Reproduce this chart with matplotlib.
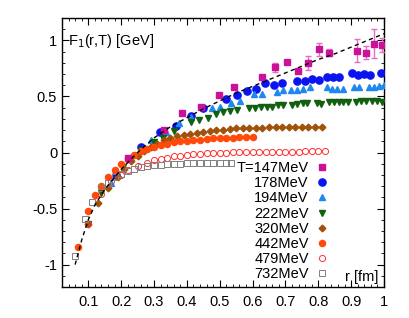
import matplotlib
matplotlib.use("Agg")
import matplotlib.pyplot as plt
from matplotlib.lines import Line2D
from matplotlib.ticker import FixedLocator, MultipleLocator

plt.rcParams['font.family'] = ['Liberation Sans', 'DejaVu Sans']
plt.rcParams['axes.unicode_minus'] = False

# ---------------- data ----------------
r147 = [0.222, 0.33, 0.384, 0.444, 0.497, 0.543, 0.628, 0.668, 0.705, 0.738, 0.769, 0.802, 0.833, 0.918, 0.946, 0.970, 0.995]
F147 = [-0.05, 0.20, 0.35, 0.41, 0.51, 0.58, 0.67, 0.76, 0.81, 0.73, 0.80, 0.92, 0.89, 0.91, 0.89, 0.97, 0.96]
e147 = [0.01, 0.01, 0.01, 0.01, 0.01, 0.01, 0.01, 0.04, 0.01, 0.01, 0.06, 0.06, 0.03, 0.10, 0.06, 0.13, 0.06]

r178 = [0.185, 0.259, 0.317, 0.366, 0.412, 0.448, 0.519, 0.552, 0.583, 0.61, 0.638, 0.665, 0.689, 0.735, 0.76, 0.781, 0.803, 0.826, 0.845, 0.864, 0.903, 0.921, 0.94, 0.958, 0.991]
F178 = [-0.20, 0.045, 0.18, 0.24, 0.33, 0.40, 0.48, 0.51, 0.55, 0.57, 0.62, 0.60, 0.62, 0.64, 0.64, 0.66, 0.65, 0.67, 0.67, 0.67, 0.71, 0.69, 0.70, 0.69, 0.71]

r194 = [0.168, 0.23, 0.29, 0.336, 0.375, 0.412, 0.476, 0.502, 0.533, 0.563, 0.604, 0.63, 0.673, 0.693, 0.716, 0.736, 0.754, 0.775, 0.826, 0.843, 0.858, 0.876, 0.909, 0.924, 0.955, 0.97, 0.985, 1.0]
F194 = [-0.27, -0.05, 0.11, 0.18, 0.26, 0.32, 0.40, 0.41, 0.44, 0.46, 0.52, 0.52, 0.54, 0.56, 0.56, 0.56, 0.57, 0.58, 0.58, 0.57, 0.57, 0.57, 0.58, 0.58, 0.58, 0.58, 0.59, 0.60]

r222 = [0.10, 0.14, 0.207, 0.26, 0.30, 0.327, 0.36, 0.414, 0.436, 0.464, 0.488, 0.51, 0.53, 0.552, 0.589, 0.607, 0.625, 0.643, 0.659, 0.677, 0.692, 0.72, 0.735, 0.753, 0.766, 0.796, 0.808, 0.832, 0.848, 0.863, 0.876, 0.891, 0.915, 0.93, 0.946, 0.964, 0.979, 0.995]
F222 = [-0.64, -0.36, -0.13, 0.02, 0.09, 0.13, 0.19, 0.27, 0.29, 0.31, 0.34, 0.36, 0.37, 0.38, 0.40, 0.40, 0.41, 0.41, 0.41, 0.42, 0.42, 0.42, 0.43, 0.44, 0.44, 0.44, 0.43, 0.45, 0.45, 0.45, 0.45, 0.45, 0.45, 0.46, 0.46, 0.46, 0.46, 0.45]

r320 = [0.10, 0.13, 0.16, 0.19, 0.21, 0.23, 0.25, 0.27, 0.29, 0.31, 0.33, 0.35, 0.37, 0.39, 0.41, 0.43, 0.45, 0.47, 0.49, 0.51, 0.53, 0.55, 0.57, 0.59, 0.61, 0.63, 0.65, 0.67, 0.69, 0.71, 0.73, 0.75, 0.77, 0.79, 0.81]
F320 = [-0.64, -0.45, -0.32, -0.22, -0.15, -0.08, -0.03, 0.01, 0.05, 0.08, 0.11, 0.13, 0.145, 0.155, 0.165, 0.175, 0.18, 0.19, 0.20, 0.205, 0.21, 0.215, 0.215, 0.22, 0.22, 0.22, 0.225, 0.225, 0.225, 0.23, 0.23, 0.23, 0.23, 0.23, 0.23]

r442 = [0.07, 0.10, 0.12, 0.14, 0.16, 0.18, 0.20, 0.22, 0.24, 0.26, 0.28, 0.30, 0.32, 0.34, 0.36, 0.38, 0.40, 0.42, 0.44, 0.46, 0.48, 0.50, 0.52, 0.54, 0.56, 0.58, 0.60]
F442 = [-0.84, -0.52, -0.38, -0.30, -0.22, -0.16, -0.10, -0.06, -0.02, 0.01, 0.03, 0.05, 0.07, 0.08, 0.09, 0.10, 0.105, 0.11, 0.115, 0.12, 0.125, 0.128, 0.13, 0.132, 0.134, 0.136, 0.138]

r479 = [0.10, 0.14, 0.17, 0.20, 0.22, 0.25, 0.28, 0.30, 0.32, 0.34, 0.36, 0.38, 0.40, 0.42, 0.44, 0.46, 0.48, 0.50, 0.52, 0.54, 0.56, 0.58, 0.60, 0.62, 0.64, 0.66, 0.68, 0.70, 0.72, 0.74, 0.76, 0.78, 0.80, 0.82]
F479 = [-0.64, -0.37, -0.25, -0.20, -0.16, -0.12, -0.09, -0.07, -0.055, -0.045, -0.035, -0.027, -0.02, -0.015, -0.01, -0.007, -0.004, -0.002, 0.0, 0.002, 0.003, 0.004, 0.005, 0.006, 0.006, 0.007, 0.007, 0.008, 0.008, 0.008, 0.009, 0.009, 0.009, 0.01]

r732 = [0.06, 0.09, 0.11, 0.14, 0.16, 0.18, 0.20, 0.22, 0.24, 0.26, 0.28, 0.30, 0.32, 0.34, 0.36, 0.38, 0.40, 0.42, 0.44, 0.46, 0.48, 0.50, 0.52, 0.535]
F732 = [-0.92, -0.59, -0.44, -0.32, -0.27, -0.22, -0.19, -0.165, -0.145, -0.13, -0.12, -0.115, -0.11, -0.105, -0.10, -0.10, -0.097, -0.095, -0.093, -0.092, -0.091, -0.09, -0.09, -0.09]

r_fit = [0.06, 0.08, 0.10, 0.12, 0.15, 0.20, 0.25, 0.30, 0.35, 0.40, 0.45, 0.50, 0.55, 0.60, 0.65, 0.70, 0.75, 0.80, 0.85, 0.90, 0.95, 1.0]
F_fit = [-1.00, -0.78, -0.60, -0.47, -0.33, -0.15, 0.00, 0.13, 0.23, 0.31, 0.39, 0.46, 0.53, 0.59, 0.65, 0.71, 0.77, 0.83, 0.88, 0.94, 1.00, 1.06]

labels = ['T=147MeV', '178MeV', '194MeV', '222MeV', '320MeV', '442MeV', '479MeV', '732MeV']
xticks = [0.1, 0.2, 0.3, 0.4, 0.5, 0.6, 0.7, 0.8, 0.9, 1.0]
xticklabels = ['0.1', '0.2', '0.3', '0.4', '0.5', '0.6', '0.7', '0.8', '0.9', '1']
yticks = [-1, -0.5, 0, 0.5, 1]
yticklabels = ['-1', '-0.5', '0', '0.5', '1']

# ---------------- figure ----------------
fig = plt.figure(figsize=(4.09, 3.18), dpi=100)
ax = fig.add_axes([62/409, 1-287/318, 322/409, 269/318])

c147 = '#cc1199'
ax.errorbar(r147, F147, yerr=e147, fmt='s', color=c147, ecolor='#e070c0',
            elinewidth=1, capsize=2.5, ms=5, mec=c147, zorder=3)
h147 = Line2D([], [], ls='none', marker='s', color=c147, ms=5)
h178, = ax.plot(r178, F178, 'o', color='#0a14f0', ms=5.2, zorder=3)
h194, = ax.plot(r194, F194, '^', color='#1e88f0', ms=4.8, zorder=3)
h222, = ax.plot(r222, F222, 'v', color='#106010', ms=4.8, zorder=3)
h320, = ax.plot(r320, F320, 'D', color='#a0520a', ms=3.4, zorder=3)
h442, = ax.plot(r442, F442, 'o', color='#ff4a0a', ms=4.4, zorder=3)
h479, = ax.plot(r479, F479, 'o', color='#ff3030', mfc='none', mew=0.7, ms=4.4, zorder=3)
h732, = ax.plot(r732, F732, 's', color='#808080', mfc='none', mew=0.7, ms=4.2, zorder=3)
ax.plot(r_fit, F_fit, color='black', lw=1.0, linestyle=(0, (3, 2.5)), zorder=4)

ax.set_xlim(0.02, 1.0)
ax.set_ylim(-1.2, 1.2)
ax.xaxis.set_major_locator(FixedLocator(xticks))
ax.set_xticklabels(xticklabels)
ax.xaxis.set_minor_locator(MultipleLocator(0.02))
ax.yaxis.set_major_locator(FixedLocator(yticks))
ax.set_yticklabels(yticklabels)
ax.yaxis.set_minor_locator(MultipleLocator(0.1))
ax.tick_params(which='both', direction='in', top=True, right=True, labelsize=10.5)
ax.tick_params(which='major', length=5, width=0.8)
ax.tick_params(which='minor', length=2.5, width=0.6)
ax.tick_params(axis='x', pad=6)
for s in ax.spines.values():
    s.set_linewidth(1.0)

ax.text(0.019, 0.915, r'F$_1$(r,T) [GeV]', transform=ax.transAxes, ha='left', va='center', fontsize=10.5)
ax.text(0.981, 0.037, 'r [fm]', transform=ax.transAxes, ha='right', va='center', fontsize=10.5)

handles = [h147, h178, h194, h222, h320, h442, h479, h732]
leg = ax.legend(handles, labels, loc='upper right', bbox_to_anchor=(0.83, 0.468), frameon=False,
                markerfirst=False, numpoints=1, handlelength=1.0, handletextpad=0.4,
                labelspacing=0.08, borderpad=0, borderaxespad=0, fontsize=10.5)
for t in leg.get_texts():
    t.set_ha('right')

fig.savefig('out.png', dpi=100)
